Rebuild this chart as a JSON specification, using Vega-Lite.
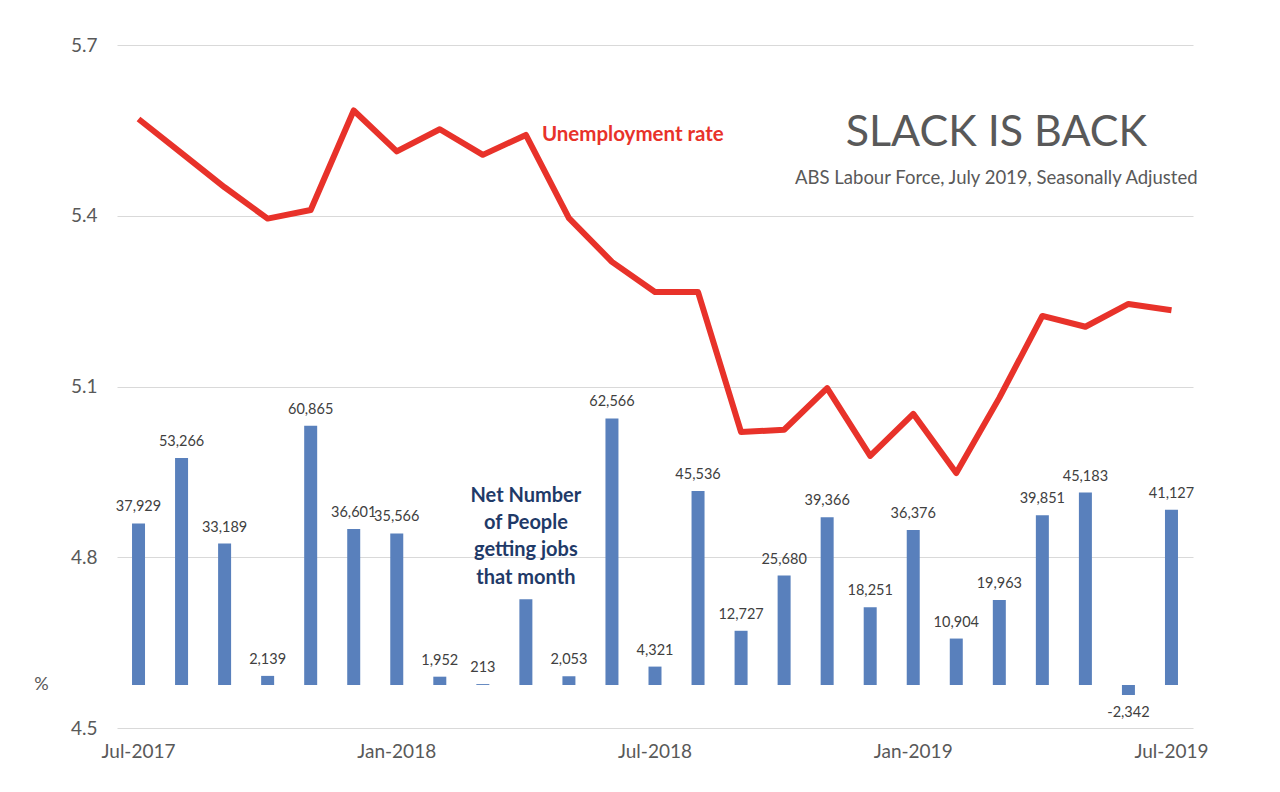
{
  "$schema": "https://vega.github.io/schema/vega-lite/v6.json",
  "autosize": "none",
  "padding": {"left": 117, "top": 45, "right": 87, "bottom": 64},
  "width": 1076,
  "height": 683,
  "background": "white",
  "config": {
    "view": {"stroke": null},
    "font": "Lato",
    "locale": {"number": {"decimal": ".", "thousands": ",", "grouping": [3], "currency": ["$", ""], "minus": "-"}}
  },
  "data": {
    "values": [
      {"month": "Jul-2017", "jobs": 37929, "rate": 5.57},
      {"month": "Aug-2017", "jobs": 53266, "rate": 5.51},
      {"month": "Sep-2017", "jobs": 33189, "rate": 5.45},
      {"month": "Oct-2017", "jobs": 2139, "rate": 5.395},
      {"month": "Nov-2017", "jobs": 60865, "rate": 5.41},
      {"month": "Dec-2017", "jobs": 36601, "rate": 5.585},
      {"month": "Jan-2018", "jobs": 35566, "rate": 5.513},
      {"month": "Feb-2018", "jobs": 1952, "rate": 5.552},
      {"month": "Mar-2018", "jobs": 213, "rate": 5.507},
      {"month": "Apr-2018", "jobs": 20100, "rate": 5.542},
      {"month": "May-2018", "jobs": 2053, "rate": 5.396},
      {"month": "Jun-2018", "jobs": 62566, "rate": 5.319},
      {"month": "Jul-2018", "jobs": 4321, "rate": 5.266},
      {"month": "Aug-2018", "jobs": 45536, "rate": 5.266},
      {"month": "Sep-2018", "jobs": 12727, "rate": 5.02},
      {"month": "Oct-2018", "jobs": 25680, "rate": 5.024},
      {"month": "Nov-2018", "jobs": 39366, "rate": 5.097},
      {"month": "Dec-2018", "jobs": 18251, "rate": 4.978},
      {"month": "Jan-2019", "jobs": 36376, "rate": 5.052},
      {"month": "Feb-2019", "jobs": 10904, "rate": 4.948},
      {"month": "Mar-2019", "jobs": 19963, "rate": 5.08},
      {"month": "Apr-2019", "jobs": 39851, "rate": 5.224},
      {"month": "May-2019", "jobs": 45183, "rate": 5.205},
      {"month": "Jun-2019", "jobs": -2342, "rate": 5.245},
      {"month": "Jul-2019", "jobs": 41127, "rate": 5.234}
    ]
  },
  "encoding": {
    "x": {
      "field": "month",
      "type": "ordinal",
      "sort": null,
      "scale": {
        "type": "band",
        "paddingInner": 0,
        "paddingOuter": 0,
        "domain": ["Jul-2017", "Aug-2017", "Sep-2017", "Oct-2017", "Nov-2017", "Dec-2017", "Jan-2018", "Feb-2018", "Mar-2018", "Apr-2018", "May-2018", "Jun-2018", "Jul-2018", "Aug-2018", "Sep-2018", "Oct-2018", "Nov-2018", "Dec-2018", "Jan-2019", "Feb-2019", "Mar-2019", "Apr-2019", "May-2019", "Jun-2019", "Jul-2019"]
      },
      "axis": {
        "title": null,
        "values": ["Jul-2017", "Jan-2018", "Jul-2018", "Jan-2019", "Jul-2019"],
        "domain": false,
        "ticks": false,
        "labelAngle": 0,
        "labelFontSize": 19,
        "labelColor": "#595959",
        "labelPadding": 14
      }
    }
  },
  "layer": [
    {
      "encoding": {
        "y": {
          "field": "jobs",
          "type": "quantitative",
          "scale": {"domain": [-10094, 150235], "zero": false, "nice": false},
          "axis": null
        }
      },
      "layer": [
        {
          "mark": {"type": "bar", "size": 13, "color": "#5980BC"}
        },
        {
          "transform": [{"filter": "datum.month != 'Apr-2018' && datum.jobs >= 0"}],
          "mark": {"type": "text", "baseline": "alphabetic", "dy": -12, "fontSize": 14.5, "color": "#404040"},
          "encoding": {"text": {"field": "jobs", "type": "quantitative", "format": ","}}
        },
        {
          "transform": [{"filter": "datum.jobs < 0"}],
          "mark": {"type": "text", "baseline": "top", "dy": 11, "fontSize": 14.5, "color": "#404040"},
          "encoding": {"text": {"field": "jobs", "type": "quantitative", "format": ","}}
        }
      ]
    },
    {
      "layer": [
        {
          "mark": {"type": "line", "color": "#E8322A", "strokeWidth": 6, "strokeJoin": "round", "strokeCap": "butt"},
          "encoding": {
            "y": {
              "field": "rate",
              "type": "quantitative",
              "scale": {"domain": [4.5, 5.7], "zero": false, "nice": false},
              "axis": {
                "orient": "left",
                "values": [4.5, 4.8, 5.1, 5.4, 5.7],
                "format": ".1f",
                "grid": true,
                "gridColor": "#D9D9D9",
                "gridWidth": 1,
                "domain": false,
                "ticks": false,
                "labelFontSize": 19,
                "labelColor": "#595959",
                "labelPadding": 20,
                "title": "%",
                "titleAngle": 0,
                "titleFontSize": 18,
                "titleFontWeight": "normal",
                "titleColor": "#595959",
                "titleAlign": "center",
                "titleBaseline": "middle",
                "titleX": -76,
                "titleY": 639
              }
            }
          }
        },
        {
          "data": {"values": [{"month": "Apr-2018", "rate": 5.542, "note": "Unemployment rate"}]},
          "mark": {"type": "text", "align": "left", "baseline": "middle", "dx": 16, "fontSize": 20.5, "fontWeight": "bold", "color": "#E8322A"},
          "encoding": {
            "y": {"field": "rate", "type": "quantitative"},
            "text": {"field": "note"}
          }
        },
        {
          "data": {"values": [{"month": "Apr-2018", "rate": 4.908, "note": "Net Number\nof People\ngetting jobs\nthat month"}]},
          "mark": {"type": "text", "align": "center", "baseline": "middle", "lineBreak": "\n", "lineHeight": 27.3, "fontSize": 20, "fontWeight": "bold", "color": "#1F3A68"},
          "encoding": {
            "y": {"field": "rate", "type": "quantitative"},
            "text": {"field": "note"}
          }
        },
        {
          "data": {"values": [{"month": "Mar-2019", "rate": 5.5454, "note": "SLACK IS BACK"}]},
          "mark": {"type": "text", "align": "center", "baseline": "middle", "dx": -3, "fontSize": 43, "color": "#595959"},
          "encoding": {
            "y": {"field": "rate", "type": "quantitative"},
            "text": {"field": "note"}
          }
        },
        {
          "data": {"values": [{"month": "Mar-2019", "rate": 5.4663, "note": "ABS Labour Force, July 2019, Seasonally Adjusted"}]},
          "mark": {"type": "text", "align": "center", "baseline": "middle", "dx": -3, "fontSize": 18.5, "color": "#595959"},
          "encoding": {
            "y": {"field": "rate", "type": "quantitative"},
            "text": {"field": "note"}
          }
        }
      ]
    }
  ],
  "resolve": {"scale": {"y": "independent"}}
}
